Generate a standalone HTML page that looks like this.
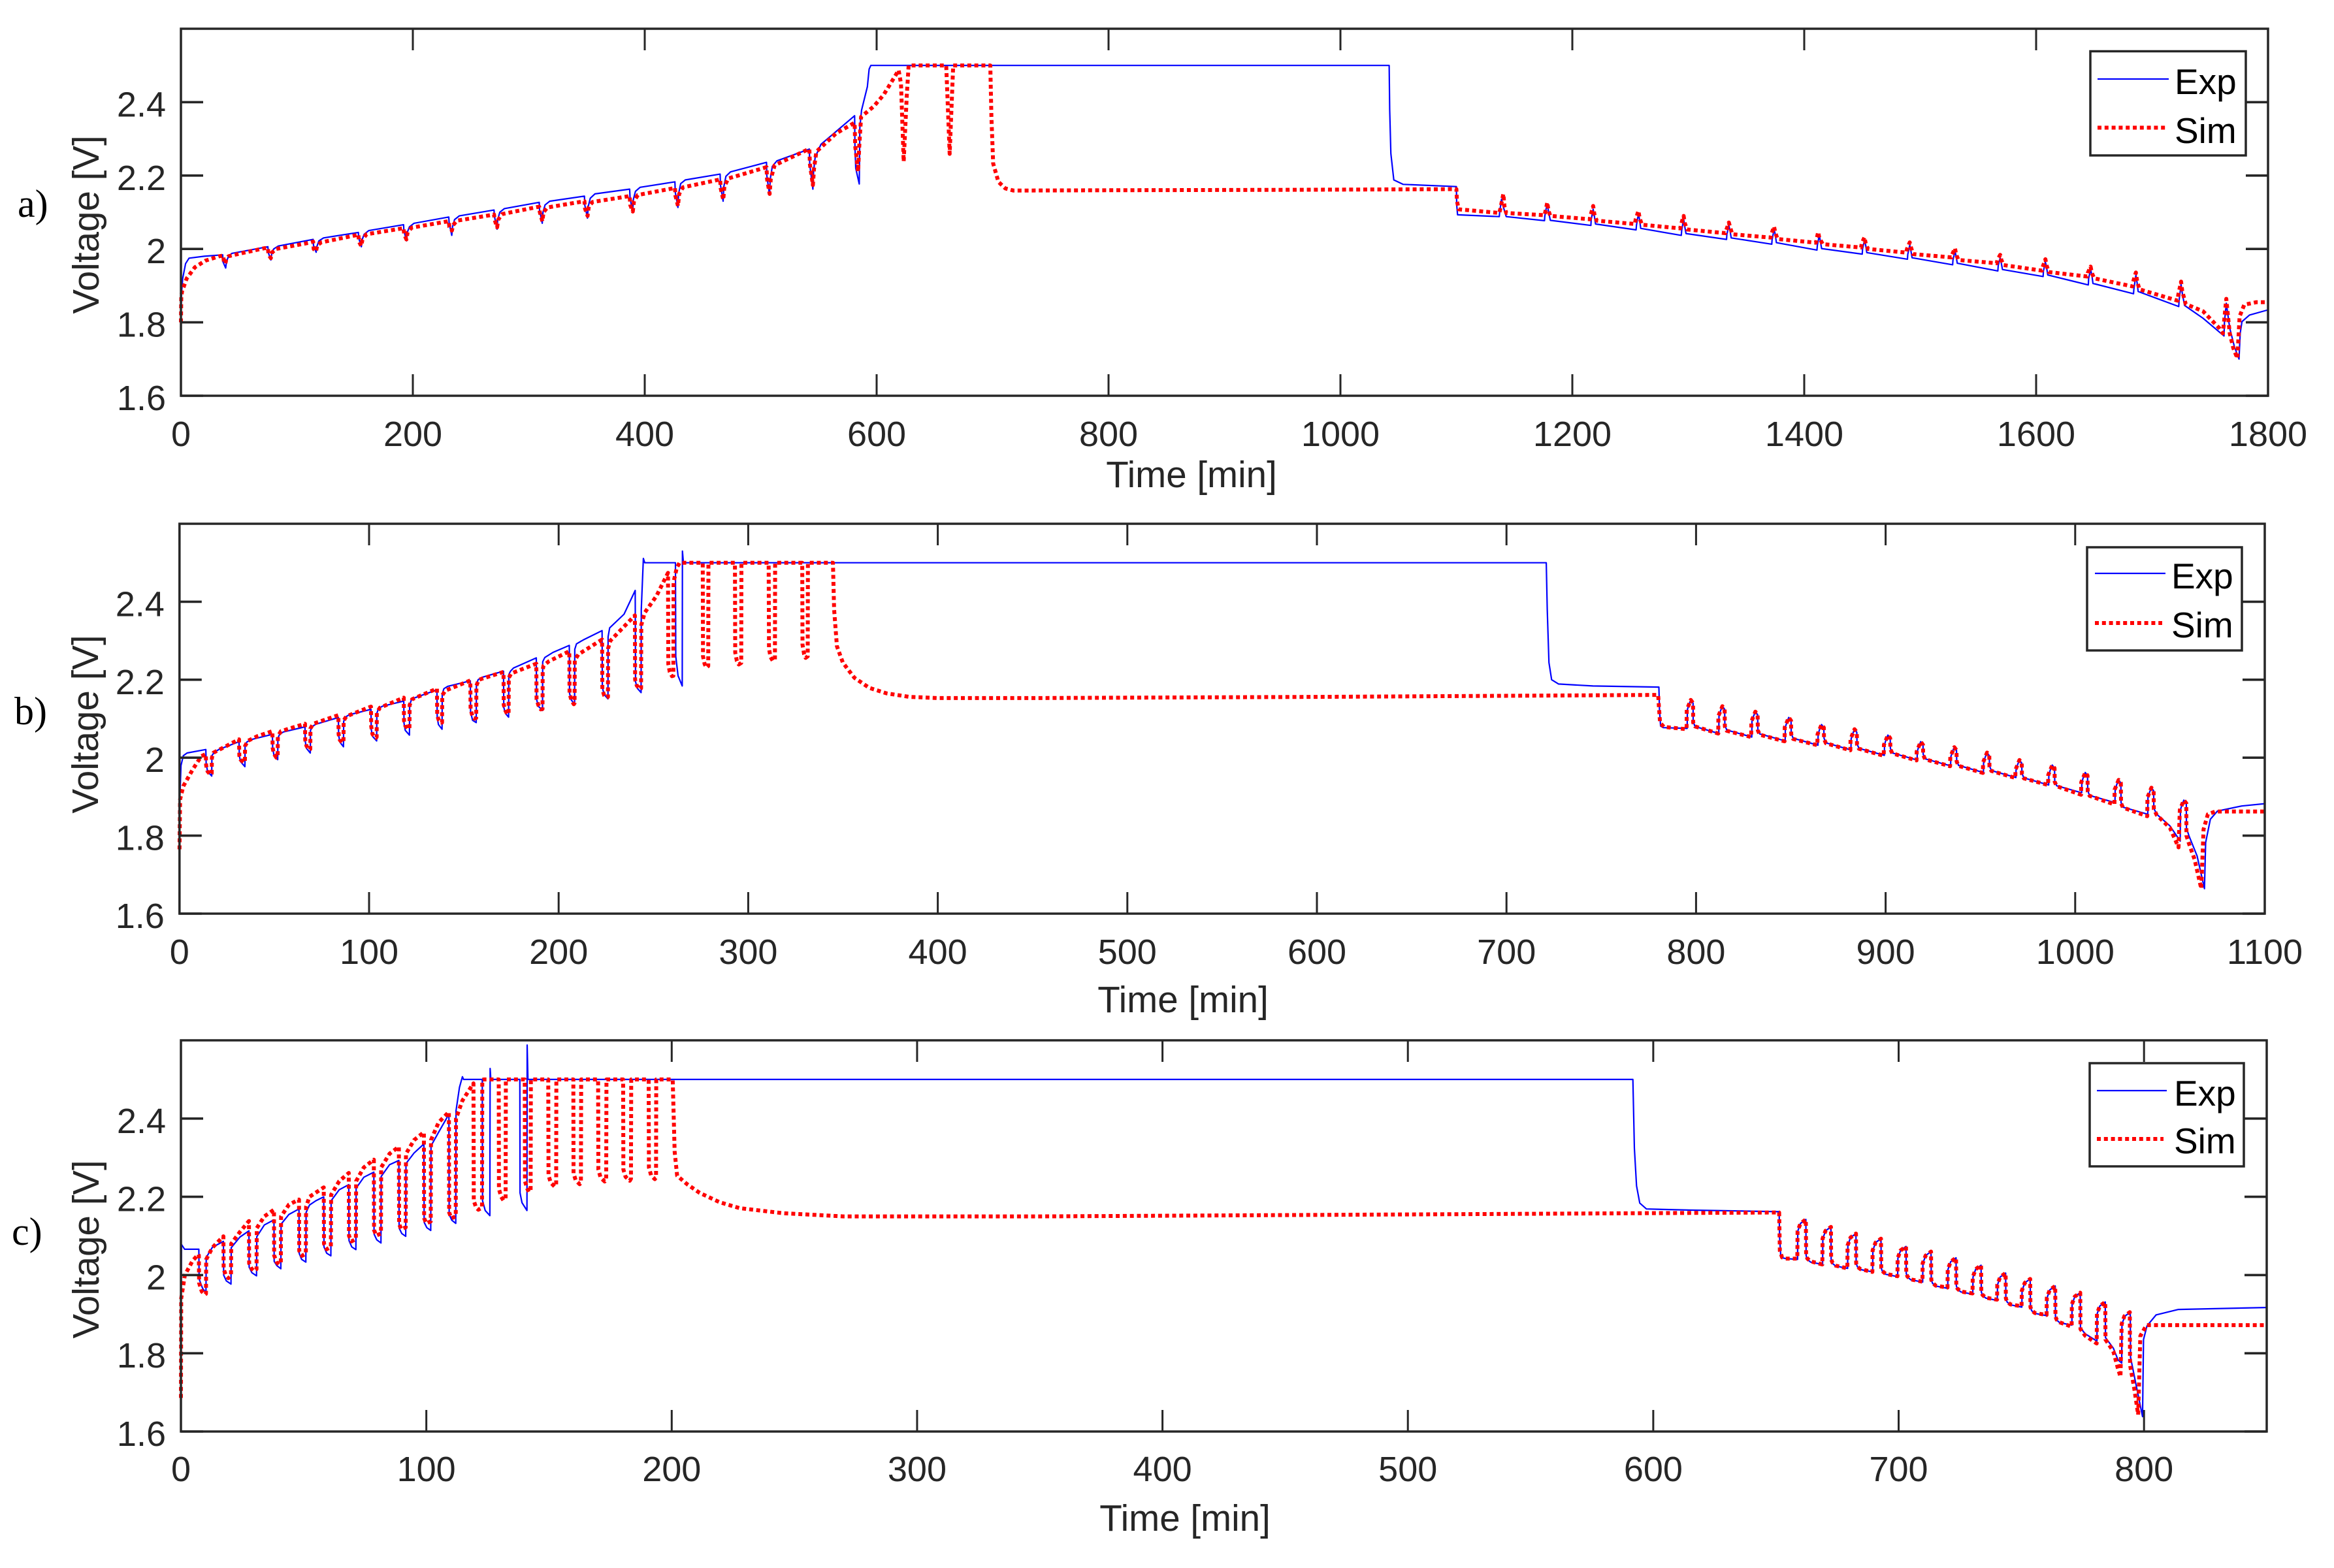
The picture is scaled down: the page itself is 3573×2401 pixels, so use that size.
<!DOCTYPE html>
<html>
<head>
<meta charset="utf-8">
<title>Voltage vs time</title>
<style>
html,body{margin:0;padding:0;background:#fff;width:3573px;height:2401px;overflow:hidden}
svg{display:block}
text{font-family:"Liberation Sans",Arial,sans-serif}
</style>
</head>
<body>
<svg id="chart" xmlns="http://www.w3.org/2000/svg" width="3573" height="2401" viewBox="0 0 3573 2401">
<rect x="0" y="0" width="3573" height="2401" fill="#fff"/>
</svg>
<script>
const yTicks=[1.6,1.8,2,2.2,2.4];
const yTickLabels=["1.6","1.8","2","2.2","2.4"];
const xTicksA=[0,200,400,600,800,1000,1200,1400,1600,1800];
const xTicksB=[0,100,200,300,400,500,600,700,800,900,1000,1100];
const xTicksC=[0,100,200,300,400,500,600,700,800];
const seriesNames=["Exp","Sim"];

const expA=[[0,1.8],[.5,1.88],[1.5,1.92],[4,1.96],[7,1.975],[20,1.98],[36,1.984],[36.3,1.965],[38.6,1.948],[39.2,1.965],[41,1.98],[44,1.988],
[75,2.006],[75.3,1.99],[77.6,1.97],[78.2,1.985],[80,2],[84,2.008],
[114,2.026],[114.3,2.01],[116.6,1.991],[117.2,2.006],[119,2.022],[123,2.03],
[153,2.045],[153.3,2.03],[155.6,2.006],[156.2,2.025],[158,2.04],[162,2.05],
[192,2.066],[192.3,2.05],[194.6,2.022],[195.2,2.045],[197,2.06],[201,2.07],
[231,2.087],[231.3,2.07],[233.6,2.037],[234.2,2.06],[236,2.08],[240,2.09],
[270,2.106],[270.3,2.09],[272.6,2.054],[273.2,2.08],[275,2.1],[279,2.11],
[309,2.127],[309.3,2.105],[311.6,2.07],[312.2,2.1],[314,2.12],[318,2.13],
[348,2.144],[348.3,2.12],[350.6,2.084],[351.2,2.115],[353,2.138],[357,2.15],
[387,2.163],[387.3,2.14],[389.6,2.099],[390.2,2.135],[392,2.157],[396,2.168],
[426,2.183],[426.3,2.155],[428.6,2.113],[429.2,2.15],[431,2.178],[435,2.188],
[465,2.204],[465.3,2.175],[467.6,2.13],[468.2,2.17],[470,2.198],[474,2.21],
[505,2.236],[505.3,2.2],[507.6,2.147],[508.2,2.19],[510,2.225],[514,2.24],
[542,2.272],[542.3,2.23],[545,2.163],[545.6,2.21],[547,2.25],[552,2.285],[565,2.32],
[581,2.363],[581.3,2.28],[582,2.22],[585,2.177],[585.5,2.33],[587,2.378],[592,2.442],[593.5,2.49],[595,2.5],
[800,2.5],[1042,2.5],[1042.5,2.38],[1043.5,2.26],[1046,2.188],[1054,2.176],[1100,2.17],[1100.3,2.12],[1101,2.093],[1137,2.088],[1137.3,2.1],[1139,2.136],[1140,2.12],[1143,2.088],
[1176,2.077],[1176.3,2.09],[1178,2.12],[1179,2.11],[1181,2.078],
[1216,2.064],[1216.3,2.08],[1218,2.108],[1219,2.09],[1220,2.068],
[1255,2.052],[1255.3,2.065],[1257,2.096],[1258,2.08],[1259,2.056],
[1294,2.037],[1294.3,2.05],[1296,2.082],[1297,2.06],[1298,2.042],
[1333,2.026],[1333.3,2.04],[1335,2.064],[1336,2.05],[1337,2.03],
[1372,2.013],[1372.3,2.025],[1374,2.053],[1375,2.04],[1376,2.017],
[1411,1.997],[1411.3,2.01],[1413,2.038],[1414,2.02],[1415,2.001],
[1450,1.986],[1450.3,2],[1452,2.024],[1453,2.01],[1454,1.99],
[1489,1.972],[1489.3,1.985],[1491,2.01],[1492,1.995],[1493,1.976],
[1528,1.957],[1528.3,1.97],[1530,1.994],[1531,1.98],[1532,1.961],
[1567,1.94],[1567.3,1.955],[1569,1.976],[1570,1.96],[1571,1.944],
[1606,1.925],[1606.3,1.94],[1608,1.964],[1609,1.95],[1610,1.929],
[1645,1.902],[1645.3,1.92],[1647,1.944],[1648,1.93],[1649,1.906],
[1684,1.878],[1684.3,1.89],[1686,1.928],[1687,1.91],[1688,1.884],
[1723,1.843],[1723.3,1.86],[1725,1.903],[1726,1.88],[1728,1.846],[1744,1.811],[1762,1.763],[1762.4,1.8],[1764,1.852],[1767,1.784],[1771,1.734],[1775,1.7],[1776,1.77],[1777.5,1.802],[1784,1.82],[1800,1.834]];

const simA=[[0,1.8],[.3,1.87],[1,1.885],[5,1.92],[12,1.95],[21,1.968],[33,1.98],[36.5,1.982],[37,1.965],[38.3,1.96],[39,1.97],[41,1.98],[46,1.984],
[72,2.002],[75,2.003],[75.5,1.985],[77.5,1.975],[78.5,1.99],[82,2],[111,2.017],[114,2.02],[114.5,2],[116.5,1.993],[117.5,2.01],[121,2.018],
[152,2.038],[153,2.04],[153.5,2.02],[155.5,2.008],[156.5,2.025],[160,2.04],[191,2.056],[192,2.057],[192.5,2.04],[194.5,2.026],[195.5,2.045],[199,2.058],
[230,2.075],[231,2.076],[231.5,2.06],[233.7,2.05],[234.7,2.065],[238,2.077],[269,2.093],[270,2.094],[270.5,2.08],[272.7,2.059],[273.7,2.08],[277,2.095],
[307,2.114],[309,2.115],[309.5,2.1],[311.7,2.075],[312.7,2.1],[316,2.113],[346,2.129],[348,2.13],[348.5,2.11],[350.7,2.09],[351.7,2.115],[355,2.128],
[385,2.143],[387,2.145],[387.5,2.12],[389.7,2.102],[390.7,2.13],[394,2.147],[424,2.165],[426,2.167],[426.5,2.145],[428.7,2.117],[429.7,2.15],[433,2.168],
[463,2.188],[465,2.19],[465.5,2.165],[467.7,2.134],[468.7,2.17],[472,2.192],[502,2.22],[505,2.223],[505.5,2.19],[507.7,2.15],[508.7,2.19],[512,2.228],
[540,2.27],[542,2.272],[542.5,2.23],[545,2.174],[546,2.22],[548,2.265],[565,2.315],[581,2.344],[581.5,2.28],[584,2.211],[585,2.28],[586.6,2.36],[597.4,2.388],[606,2.42],[619,2.487],[621,2.45],[623.3,2.238],[626,2.42],[627.6,2.5],
[660,2.5],[661,2.42],[663,2.259],[665,2.42],[666,2.5],[698,2.5],[699,2.36],[700.5,2.233],[705,2.183],[711,2.165],[718,2.159],[800,2.16],[950,2.161],[1100,2.163],[1100.5,2.13],[1102,2.108],
[1137,2.098],[1138,2.11],[1140.5,2.15],[1141.5,2.115],[1143,2.098],[1176,2.092],[1176.6,2.1],[1178.4,2.127],[1179.4,2.105],[1181,2.09],
[1215,2.081],[1215.6,2.09],[1218,2.117],[1219,2.095],[1221,2.077],[1254,2.068],[1254.6,2.08],[1257,2.104],[1258,2.085],[1260,2.066],
[1293,2.056],[1293.6,2.065],[1296,2.09],[1297,2.07],[1299,2.053],[1332,2.043],[1332.6,2.05],[1335,2.072],[1336,2.06],[1338,2.04],
[1371,2.031],[1371.6,2.04],[1374,2.061],[1375,2.045],[1377,2.027],[1410,2.017],[1410.6,2.025],[1412,2.046],[1413,2.03],[1416,2.013],
[1449,2.004],[1449.6,2.015],[1452,2.032],[1453,2.015],[1455,2],[1488,1.99],[1488.6,2],[1491,2.018],[1492,2.005],[1494,1.986],
[1527,1.977],[1527.6,1.985],[1530,2.002],[1531,1.985],[1533,1.97],[1566,1.961],[1566.6,1.97],[1569,1.984],[1570,1.97],[1572,1.956],
[1605,1.941],[1605.6,1.95],[1608,1.972],[1609,1.955],[1611,1.937],[1644,1.925],[1644.6,1.935],[1647,1.952],[1648,1.935],[1650,1.92],
[1683,1.898],[1683.6,1.91],[1686,1.936],[1687,1.915],[1689,1.89],[1722,1.859],[1722.6,1.875],[1725,1.911],[1726,1.885],[1729,1.85],[1744,1.83],[1758,1.784],[1761,1.77],[1762,1.8],[1764,1.864],[1767,1.77],[1770,1.73],[1773.5,1.702],[1775.5,1.816],[1779.5,1.848],[1790,1.855],[1800,1.855]];

const expB=[[0,1.77],[.2,1.9],[.8,1.98],[2,2.005],[4,2.012],[13.9,2.021],[14.05,1.985],[14.8,1.965],[17,1.953],[17.1,2.005],[18.2,2.013],[20.7,2.021],
[31.4,2.041],[31.55,2.005],[32.2,1.99],[34.5,1.977],[34.6,2.03],[35.5,2.04],[37.5,2.046],
[49,2.06],[49.15,2.025],[49.8,2.007],[51.8,1.995],[51.9,2.05],[52.8,2.06],[54.8,2.066],
[66.2,2.079],[66.35,2.042],[67,2.024],[69,2.012],[69.1,2.07],[70,2.08],[72,2.086],
[83.8,2.103],[83.95,2.058],[84.6,2.04],[86.5,2.028],[86.6,2.093],[87.5,2.104],[89.5,2.11],
[101,2.124],[101.15,2.073],[101.8,2.055],[104,2.043],[104.1,2.114],[105,2.126],[107,2.132],
[118.3,2.145],[118.45,2.088],[119.1,2.07],[121.3,2.058],[121.4,2.135],[122.3,2.148],[124.3,2.154],
[135.8,2.174],[135.95,2.103],[136.6,2.085],[138.5,2.073],[138.6,2.164],[139.5,2.177],[141.5,2.183],
[153.4,2.197],[153.55,2.118],[154.6,2.096],[156.5,2.09],[156.6,2.187],[157.5,2.2],[159.5,2.206],
[170.9,2.222],[171.05,2.129],[172,2.113],[173.6,2.104],[173.7,2.213],[174.6,2.222],[176.2,2.23],
[188.2,2.256],[188.35,2.15],[189.3,2.132],[191.5,2.121],[191.6,2.246],[192.7,2.257],[197,2.27],
[205.6,2.288],[205.75,2.165],[206.7,2.148],[208.4,2.137],[208.5,2.278],[209.4,2.292],[213,2.302],
[222.9,2.326],[223.05,2.18],[224,2.162],[226,2.151],[226.1,2.31],[226.9,2.333],[234.5,2.368],[240.4,2.429],[240.55,2.195],[241.5,2.178],[243.5,2.167],[243.6,2.38],[244.7,2.511],[245.4,2.5],
[261.6,2.5],[261.8,2.26],[263,2.21],[265.2,2.184],[265.3,2.53],[265.8,2.5],[500,2.5],[720.3,2.5],[721,2.5],[721.5,2.38],[722.4,2.244],[723.8,2.2],[727.5,2.189],[745.6,2.184],[780.4,2.181],[780.7,2.124],[781.3,2.081],[782.7,2.077],
[795.3,2.075],[795.4,2.123],[796.2,2.136],[797.2,2.148],[798.4,2.14],[798.5,2.092],[799.5,2.08],
[812,2.062],[812.1,2.107],[812.9,2.12],[813.9,2.132],[815.1,2.124],[815.2,2.083],[816.2,2.071],
[829.4,2.053],[829.5,2.093],[830.3,2.106],[831.3,2.118],[832.5,2.11],[832.6,2.073],[833.6,2.061],
[847,2.043],[847.1,2.078],[847.9,2.091],[848.9,2.103],[850.1,2.095],[850.2,2.062],[851.2,2.05],
[864.3,2.032],[864.4,2.06],[865.2,2.073],[866.2,2.085],[867.4,2.077],[867.5,2.05],[868.5,2.038],
[881.7,2.02],[881.8,2.048],[882.6,2.061],[883.6,2.073],[884.8,2.065],[884.9,2.036],[885.9,2.024],
[899.3,2.006],[899.4,2.033],[900.2,2.046],[901.2,2.058],[902.4,2.05],[902.5,2.024],[903.5,2.012],
[916.6,1.994],[916.7,2.016],[917.5,2.029],[918.5,2.041],[919.7,2.033],[919.8,2.009],[920.8,1.997],
[934.3,1.979],[934.4,2.002],[935.2,2.015],[936.2,2.027],[937.4,2.019],[937.5,1.992],[938.5,1.98],
[951.6,1.962],[951.7,1.988],[952.5,2.001],[953.5,2.013],[954.7,2.005],[954.8,1.979],[955.8,1.967],
[968.7,1.949],[968.8,1.969],[969.6,1.982],[970.6,1.994],[971.8,1.986],[971.9,1.96],[972.9,1.948],
[986,1.93],[986.1,1.956],[986.9,1.969],[987.9,1.981],[989.1,1.973],[989.2,1.94],[990.2,1.928],
[1003.4,1.91],[1003.5,1.937],[1004.3,1.95],[1005.3,1.962],[1006.5,1.954],[1006.6,1.915],[1007.6,1.903],
[1021,1.885],[1021.1,1.918],[1021.9,1.931],[1022.9,1.943],[1024.1,1.935],[1024.2,1.885],[1025.2,1.873],
[1038.3,1.855],[1038.4,1.898],[1039.2,1.911],[1040.2,1.923],[1041.4,1.915],[1041.5,1.87],[1043,1.855],[1050,1.825],
[1055.4,1.786],[1055.5,1.866],[1056.3,1.879],[1057.3,1.891],[1058.6,1.883],[1058.7,1.82],[1060,1.8],[1064.3,1.748],[1068.2,1.664],[1068.8,1.782],[1071.3,1.842],[1075,1.863],[1087.8,1.876],[1100,1.882]];

const simB=[[0,1.765],[.3,1.893],[2,1.927],[7,1.97],[11.5,2.004],[13.9,2.009],[14.05,1.98],[14.8,1.965],[16.4,1.956],[17,1.96],[17.1,2],[18,2.013],[24,2.028],
[31.4,2.047],[31.55,2.005],[32.2,1.995],[34,1.987],[34.5,1.99],[34.6,2.03],[36,2.043],[41,2.055],
[49,2.068],[49.15,2.025],[49.8,2.01],[51.1,2],[51.8,2.003],[51.9,2.055],[53.5,2.068],
[66.2,2.087],[66.35,2.045],[67,2.03],[68.4,2.02],[69,2.022],[69.1,2.075],[70.5,2.087],
[83.8,2.109],[83.95,2.06],[84.6,2.045],[86,2.038],[86.5,2.04],[86.6,2.095],[88,2.106],
[101,2.131],[101.15,2.08],[101.8,2.06],[103.7,2.051],[104,2.053],[104.1,2.115],[105.7,2.128],
[118.3,2.154],[118.45,2.095],[119.1,2.082],[120.7,2.073],[121.3,2.075],[121.4,2.135],[122.7,2.15],
[135.8,2.177],[135.95,2.11],[136.6,2.098],[138.2,2.09],[138.5,2.09],[138.6,2.16],[140.2,2.172],
[153.4,2.198],[153.55,2.125],[154.6,2.105],[155.5,2.1],[156.5,2.102],[156.6,2.185],[157.9,2.2],
[170.9,2.22],[171.05,2.135],[172,2.12],[173,2.111],[173.6,2.113],[173.7,2.205],[175,2.216],
[188.2,2.241],[188.35,2.15],[189.3,2.135],[190.6,2.124],[191.5,2.125],[191.6,2.225],[192,2.236],[194.8,2.247],
[205.6,2.273],[205.75,2.165],[206.7,2.148],[208,2.137],[208.4,2.14],[208.5,2.25],[210.4,2.265],
[222.9,2.303],[223.05,2.175],[224,2.16],[225.3,2.154],[226,2.156],[226.1,2.28],[227.3,2.3],
[240.2,2.365],[240.35,2.2],[241.2,2.185],[243,2.175],[243.5,2.178],[243.6,2.34],[245.4,2.372],[251.5,2.414],[257.7,2.474],[257.85,2.24],[258.6,2.22],[259.8,2.209],[260.5,2.21],[260.6,2.45],[262.3,2.487],[263.8,2.5],
[276,2.5],[276.15,2.26],[277,2.24],[278,2.231],[278.9,2.235],[279,2.5],[293,2.5],[293.15,2.27],[294,2.248],[295,2.239],[296.3,2.243],[296.4,2.5],[310.8,2.5],[310.95,2.28],[311.8,2.258],[313,2.248],[314.1,2.252],[314.2,2.5],
[328.5,2.5],[328.65,2.29],[329.5,2.265],[330.3,2.256],[331.4,2.26],[331.5,2.5],[344.7,2.5],[345.3,2.38],[346.8,2.286],[349.9,2.244],[356,2.205],[363.9,2.179],[373,2.165],[385,2.156],[400,2.153],[450,2.153],[600,2.156],[780,2.161],[780.4,2.132],[781,2.09],[783,2.079],
[795,2.073],[795.1,2.123],[796.2,2.136],[797.2,2.148],[798.4,2.14],[798.5,2.09],[799.5,2.08],
[811.7,2.062],[811.8,2.107],[812.9,2.12],[813.9,2.132],[815.1,2.124],[815.2,2.08],[816.2,2.069],
[829.1,2.053],[829.2,2.093],[830.3,2.106],[831.3,2.118],[832.5,2.11],[832.6,2.07],[833.6,2.059],
[846.7,2.042],[846.8,2.078],[847.9,2.091],[848.9,2.103],[850.1,2.095],[850.2,2.06],[851.2,2.048],
[864,2.032],[864.1,2.06],[865.2,2.073],[866.2,2.085],[867.4,2.077],[867.5,2.048],[868.5,2.037],
[881.4,2.019],[881.5,2.048],[882.6,2.061],[883.6,2.073],[884.8,2.065],[884.9,2.034],[885.9,2.023],
[899,2.005],[899.1,2.033],[900.2,2.046],[901.2,2.058],[902.4,2.05],[902.5,2.022],[903.5,2.011],
[916.3,1.993],[916.4,2.016],[917.5,2.029],[918.5,2.041],[919.7,2.033],[919.8,2.007],[920.8,1.996],
[934,1.978],[934.1,2.002],[935.2,2.015],[936.2,2.027],[937.4,2.019],[937.5,1.99],[938.5,1.979],
[951.3,1.961],[951.4,1.988],[952.5,2.001],[953.5,2.013],[954.7,2.005],[954.8,1.977],[955.8,1.966],
[968.4,1.948],[968.5,1.969],[969.6,1.982],[970.6,1.994],[971.8,1.986],[971.9,1.958],[972.9,1.947],
[985.7,1.93],[985.8,1.956],[986.9,1.969],[987.9,1.981],[989.1,1.973],[989.2,1.938],[990.2,1.927],
[1003.1,1.905],[1003.2,1.937],[1004.3,1.95],[1005.3,1.962],[1006.5,1.954],[1006.6,1.913],[1007.6,1.902],
[1020.7,1.88],[1020.8,1.918],[1021.9,1.931],[1022.9,1.943],[1024.1,1.935],[1024.2,1.883],[1025.2,1.872],
[1038,1.85],[1038.1,1.898],[1039.2,1.911],[1040.2,1.923],[1041.4,1.915],[1041.5,1.868],[1043,1.853],[1050,1.82],
[1054.5,1.77],[1055.2,1.866],[1056.3,1.879],[1057.3,1.891],[1058.6,1.883],[1058.7,1.8],[1060,1.78],[1063,1.739],[1066.5,1.664],[1067.7,1.816],[1070,1.855],[1074,1.862],[1100,1.862]];

const expC=[[0,1.7],[.1,1.95],[.25,2.078],[1.5,2.066],[7.3,2.066],[7.4,1.99],[8.8,1.966],[10.2,1.955],[10.3,2.045],[12.8,2.071],
[17.3,2.086],[17.4,2],[18.5,1.985],[20.4,1.977],[20.5,2.07],[24,2.097],
[27.7,2.113],[27.8,2.02],[28.9,2.006],[30.8,1.998],[30.9,2.098],[34,2.128],
[37.9,2.141],[38,2.035],[39.1,2.024],[40.7,2.016],[40.8,2.13],[44,2.155],
[48.1,2.169],[48.2,2.055],[49.2,2.04],[50.9,2.033],[51,2.16],[52.4,2.179],[55,2.19],
[58.2,2.2],[58.3,2.072],[59.4,2.056],[61.1,2.049],[61.2,2.19],[64.5,2.218],
[68.4,2.231],[68.5,2.088],[69.6,2.072],[71.3,2.065],[71.4,2.222],[74.5,2.25],
[78.6,2.263],[78.7,2.105],[79.8,2.09],[81.5,2.082],[81.6,2.252],[85,2.282],
[88.8,2.293],[88.9,2.12],[90,2.106],[91.6,2.099],[91.7,2.285],[95,2.312],
[99,2.335],[99.1,2.135],[100.2,2.121],[101.8,2.114],[101.9,2.33],[105,2.365],
[109.2,2.411],[109.3,2.155],[110.4,2.14],[112,2.132],[112.1,2.42],[113.5,2.48],[114.7,2.507],[115.2,2.5],
[122.8,2.5],[122.9,2.19],[124,2.165],[125.9,2.152],[126,2.528],[126.3,2.5],[138.1,2.5],[138.2,2.21],[139,2.185],[141,2.165],[141.1,2.588],[141.4,2.5],[400,2.5],
[591.7,2.5],[592.3,2.324],[593.2,2.228],[594.5,2.184],[597.2,2.169],[615.4,2.166],[651.3,2.162],[651.5,2.097],[652,2.045],[654,2.042],
[658.8,2.04],[658.9,2.112],[660,2.132],[662.2,2.142],[662.3,2.05],[662.8,2.04],[664.1,2.033],
[669,2.027],[669.1,2.093],[670.2,2.113],[672.4,2.123],[672.5,2.04],[673,2.03],[674.3,2.023],
[679.2,2.017],[679.3,2.076],[680.4,2.096],[682.6,2.106],[682.7,2.03],[683.2,2.021],[684.5,2.014],
[689.4,2.008],[689.5,2.063],[690.6,2.083],[692.8,2.093],[692.9,2.018],[693.4,2.009],[694.7,2.002],
[699.6,1.996],[699.7,2.043],[700.8,2.063],[703,2.073],[703.1,2.004],[703.6,1.995],[704.9,1.988],
[709.8,1.982],[709.9,2.03],[711,2.05],[713.2,2.06],[713.3,1.988],[713.8,1.979],[715.1,1.972],
[720,1.966],[720.1,2.014],[721.2,2.034],[723.4,2.044],[723.5,1.973],[724,1.964],[725.3,1.957],
[730.2,1.951],[730.3,1.995],[731.4,2.015],[733.6,2.025],[733.7,1.957],[734.2,1.948],[735.5,1.941],
[740.2,1.935],[740.3,1.975],[741.4,1.995],[743.6,2.005],[743.7,1.94],[744.2,1.931],[745.5,1.924],
[750.2,1.918],[750.3,1.96],[751.4,1.98],[753.6,1.99],[753.7,1.918],[754.2,1.909],[755.5,1.902],
[760.4,1.896],[760.5,1.942],[761.6,1.962],[763.8,1.972],[763.9,1.894],[764.4,1.885],[765.7,1.878],
[770.6,1.872],[770.7,1.925],[771.8,1.945],[774,1.955],[774.1,1.865],[776,1.85],[780.8,1.831],
[780.9,1.901],[782,1.921],[784.2,1.931],[784.3,1.84],[787.5,1.813],[789.4,1.783],[790.9,1.775],
[791,1.875],[792.2,1.895],[794.4,1.905],[794.5,1.79],[796.7,1.721],[799.4,1.638],[799.8,1.835],[801.2,1.87],[804.9,1.898],[814,1.912],[850,1.917]];

const simC=[[0,1.686],[.1,1.94],[1.6,2],[4.7,2.036],[7.1,2.053],[7.3,2.05],[7.4,1.98],[8.5,1.958],[9.8,1.95],[10.2,1.952],[10.3,2.04],[12.8,2.07],
[17.3,2.099],[17.4,2.015],[18.4,1.998],[19.3,1.992],[20.4,1.998],[20.5,2.08],[24,2.11],
[27.7,2.138],[27.8,2.03],[28.8,2.016],[29.8,2.01],[30.8,2.015],[30.9,2.12],[34,2.15],
[37.9,2.167],[38,2.05],[39,2.033],[39.9,2.027],[40.7,2.032],[40.8,2.15],[44,2.18],
[48.1,2.193],[48.2,2.062],[49.3,2.049],[50.9,2.055],[51,2.175],[52.4,2.2],
[58.2,2.224],[58.3,2.08],[59.4,2.066],[61.1,2.072],[61.2,2.205],[64.5,2.24],
[68.4,2.261],[68.5,2.1],[69.5,2.086],[71.3,2.092],[71.4,2.24],[74.5,2.275],
[78.6,2.295],[78.7,2.115],[79.6,2.101],[81.5,2.106],[81.6,2.275],[85,2.31],
[88.8,2.328],[88.9,2.13],[89.8,2.117],[91.6,2.122],[91.7,2.31],[95,2.345],
[99,2.365],[99.1,2.145],[100,2.132],[101.8,2.137],[101.9,2.345],[105,2.39],
[109.2,2.417],[109.3,2.16],[110.2,2.145],[112,2.15],[112.1,2.4],[114.7,2.446],[119.2,2.49],[119.35,2.19],[120.3,2.172],[121.2,2.167],[122.7,2.172],[122.8,2.499],[123.4,2.5],
[129.5,2.5],[129.6,2.22],[130.5,2.2],[131.4,2.191],[132.3,2.196],[132.4,2.5],[140.1,2.5],[140.2,2.24],[141,2.222],[141.8,2.212],[142.5,2.217],[142.6,2.5],
[149.7,2.5],[149.8,2.255],[150.7,2.236],[152.3,2.226],[152.9,2.231],[153,2.5],[159.9,2.5],[160,2.26],[160.9,2.242],[162.5,2.232],[163,2.237],[163.1,2.5],
[170,2.5],[170.1,2.27],[171,2.249],[172.7,2.239],[173.3,2.244],[173.4,2.5],[180.2,2.5],[180.3,2.27],[181.2,2.251],[182.9,2.241],[183.4,2.246],[183.5,2.5],
[190.6,2.5],[190.7,2.275],[191.6,2.255],[193.1,2.245],[193.6,2.25],[193.7,2.5],[200.4,2.5],[201.2,2.315],[202.2,2.254],[206.3,2.232],[211.4,2.21],[219.6,2.186],[227.7,2.171],[245.6,2.158],[270,2.15],[350,2.15],[500,2.155],[651.3,2.16],[651.6,2.062],[652.5,2.045],[654,2.042],
[658.7,2.042],[658.8,2.112],[660,2.132],[662.2,2.142],[662.3,2.052],[662.8,2.042],[664.1,2.035],
[668.9,2.027],[669,2.093],[670.2,2.113],[672.4,2.123],[672.5,2.04],[673,2.032],[674.3,2.024],
[679.1,2.017],[679.2,2.076],[680.4,2.096],[682.6,2.106],[682.7,2.03],[683.2,2.021],[684.5,2.015],
[689.3,2.008],[689.4,2.063],[690.6,2.083],[692.8,2.093],[692.9,2.018],[693.4,2.01],[694.7,2.003],
[699.5,1.997],[699.6,2.043],[700.8,2.063],[703,2.073],[703.1,2.004],[703.6,1.996],[704.9,1.989],
[709.7,1.983],[709.8,2.03],[711,2.05],[713.2,2.06],[713.3,1.988],[713.8,1.98],[715.1,1.973],
[719.9,1.968],[720,2.014],[721.2,2.034],[723.4,2.044],[723.5,1.973],[724,1.965],[725.3,1.958],
[730.1,1.953],[730.2,1.995],[731.4,2.015],[733.6,2.025],[733.7,1.957],[734.2,1.949],[735.5,1.942],
[740.1,1.937],[740.2,1.975],[741.4,1.995],[743.6,2.005],[743.7,1.94],[744.2,1.932],[745.5,1.925],
[750.1,1.92],[750.2,1.96],[751.4,1.98],[753.6,1.99],[753.7,1.918],[754.2,1.91],[755.5,1.903],
[760.3,1.898],[760.4,1.942],[761.6,1.962],[763.8,1.972],[763.9,1.894],[764.4,1.886],[765.7,1.879],
[770.5,1.868],[770.6,1.925],[771.8,1.945],[774,1.955],[774.1,1.862],[776,1.845],[780.7,1.825],
[780.8,1.901],[782,1.921],[784.2,1.931],[784.3,1.835],[787.5,1.805],[789.4,1.76],[790.4,1.74],
[790.9,1.875],[792,1.895],[794.2,1.905],[794.3,1.77],[796,1.71],[797.6,1.643],[798.5,1.844],[801,1.872],[820,1.872],[850,1.872]];

const NS='http://www.w3.org/2000/svg';
const root=document.getElementById('chart');
function make(tag,attrs,parent,txt){
  const e=document.createElementNS(NS,tag);
  for(const k in attrs){e.setAttribute(k,attrs[k]);}
  if(txt!==undefined){e.textContent=txt;}
  (parent||root).appendChild(e);
  return e;
}
const AXC='#262626';
function drawPanel(p){
  const xs=t=>p.left+(t/p.xMax)*(p.right-p.left);
  const ys=v=>p.bottom-((v-1.6)/1.0)*(p.bottom-p.top);
  const g=make('g',{});
  
  

  const path=(data,color,w,dash,name)=>{
    let d='';
    data.forEach((pt,i)=>{d+=(i?'L':'M')+xs(pt[0]).toFixed(1)+' '+ys(pt[1]).toFixed(1);});
    const a={d:d,fill:'none',stroke:color,'stroke-width':w,'stroke-linejoin':'round'};
    if(dash){a['stroke-dasharray']=dash;}
    const el=make('path',a,g);
    
    
  };
  path(p.exp,'#0000ff',2.2,null,p.id+'-exp-line');
  path(p.sim,'#ff0000',6,'6 4.8',p.id+'-sim-line');

  const frame=make('rect',{x:p.left,y:p.top,width:p.right-p.left,height:p.bottom-p.top,fill:'none',stroke:AXC,'stroke-width':3.5},g);
  
  

  p.xTicks.forEach(t=>{
    const x=xs(t);
    const t1=make('line',{x1:x,x2:x,y1:p.bottom,y2:p.bottom-33,stroke:AXC,'stroke-width':3},g);
    
    
    const t2=make('line',{x1:x,x2:x,y1:p.top,y2:p.top+33,stroke:AXC,'stroke-width':3},g);
    
    
    const lb=make('text',{x:x,y:p.xTickY,'text-anchor':'middle','font-size':54,fill:AXC},g,String(t));
    
    
  });
  yTicks.forEach((v,i)=>{
    const y=ys(v);
    const t1=make('line',{x1:p.left,x2:p.left+34,y1:y,y2:y,stroke:AXC,'stroke-width':3.6},g);
    
    
    const t2=make('line',{x1:p.right,x2:p.right-34,y1:y,y2:y,stroke:AXC,'stroke-width':3.6},g);
    
    
    const lb=make('text',{x:p.left-23,y:y+22,'text-anchor':'end','font-size':54,fill:AXC},g,yTickLabels[i]);
    
    
  });

  const xl=make('text',{x:p.xLabelX,y:p.xLabelY,'text-anchor':'middle','font-size':56.5,fill:AXC},g,'Time [min]');
  
  
  const yl=make('text',{transform:'translate('+p.yLabelX+','+p.yLabelY+') rotate(-90)','text-anchor':'middle','font-size':56.5,fill:AXC},g,'Voltage [V]');
  
  
  const pl=make('text',{x:p.tagX,y:p.tagY,'font-size':60,fill:'#000',style:'font-family:"Liberation Serif",serif'},g,p.tag);
  
  

  const L=p.legend;
  const lg=make('g',{},g);
  
  
  const box=make('rect',{x:L.x0,y:L.y0,width:L.x1-L.x0,height:L.y1-L.y0,fill:'#fff',stroke:AXC,'stroke-width':3.5},lg);
  
  
  const l1=make('line',{x1:L.lx0,x2:L.lx1,y1:L.ly1,y2:L.ly1,stroke:'#0000ff','stroke-width':2.2},lg);
  
  
  const l2=make('line',{x1:L.lx0,x2:L.lx1-5,y1:L.ly2,y2:L.ly2,stroke:'#ff0000','stroke-width':6,'stroke-dasharray':'6 4.8'},lg);
  
  
  const e1=make('text',{x:L.tx,y:L.ty1,'font-size':55,fill:'#000'},lg,seriesNames[0]);
  
  
  const e2=make('text',{x:L.tx,y:L.ty2,'font-size':55,fill:'#000'},lg,seriesNames[1]);
  
  
}
drawPanel({id:'panel-a',tag:'a)',left:277,right:3472,top:44,bottom:606,xMax:1800,xTicks:xTicksA,exp:expA,sim:simA,xTickY:683,xLabelX:1824,xLabelY:746,yLabelX:151,yLabelY:344,tagX:27,tagY:332,
  legend:{x0:3200,x1:3438,y0:78.5,y1:238,lx0:3211,lx1:3320,ly1:121,ly2:195.5,tx:3329,ty1:144,ty2:219}});
drawPanel({id:'panel-b',tag:'b)',left:274.8,right:3467,top:802,bottom:1399,xMax:1100,xTicks:xTicksB,exp:expB,sim:simB,xTickY:1476,xLabelX:1811,xLabelY:1550,yLabelX:150,yLabelY:1109,tagX:22,tagY:1109,
  legend:{x0:3195,x1:3432,y0:838,y1:996,lx0:3207,lx1:3315,ly1:878,ly2:954,tx:3324,ty1:901,ty2:976}});
drawPanel({id:'panel-c',tag:'c)',left:277,right:3470,top:1593,bottom:2192,xMax:850,xTicks:xTicksC,exp:expC,sim:simC,xTickY:2268,xLabelX:1814,xLabelY:2344,yLabelX:151,yLabelY:1913,tagX:18,tagY:1906,
  legend:{x0:3199,x1:3435,y0:1628,y1:1786,lx0:3210,lx1:3317,ly1:1670,ly2:1744,tx:3328,ty1:1693,ty2:1766}});
</script>
</body>
</html>
